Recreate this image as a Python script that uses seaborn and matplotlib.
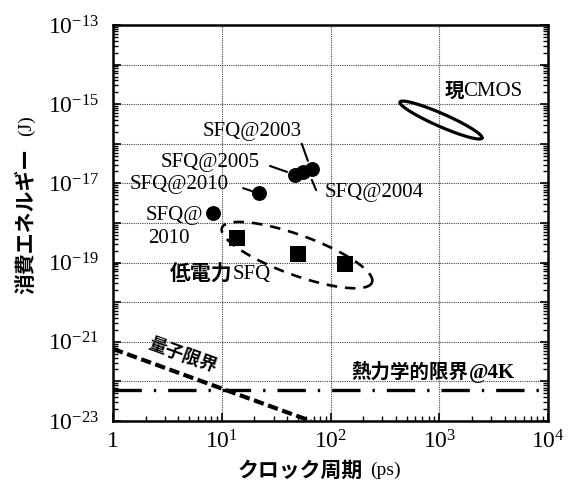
import numpy as np
import pandas as pd
import matplotlib
matplotlib.use("Agg")
import matplotlib.pyplot as plt
import seaborn as sns
from matplotlib.ticker import LogLocator, FixedLocator, FixedFormatter, NullFormatter

# ---- data ----
sfq_period = [8.3, 22, 47, 56, 68]                  # ps
sfq_energy = [1.8e-18, 5.7e-18, 1.6e-17, 1.95e-17, 2.3e-17]
lp_period = [13.8, 50, 135]
lp_energy = [4.2e-19, 1.65e-19, 9.2e-20]
quantum_period = [1, 66]
quantum_energy = [6.6e-22, 1e-23]
thermal_period = [1, 1e4]
thermal_energy = [6.2e-23, 6.2e-23]
# ellipses in log10 space: centre, half-axis vectors (decades)
cmos_center = (3.016, -15.40)
cmos_major = (0.377, -0.455)
cmos_minor = (-0.024, -0.149)
lpe_center = (1.692, -18.81)
lpe_major = (0.69, -0.69)
lpe_minor = (-0.063, -0.475)

x_ticks = [1, 10, 100, 1000, 10000]
x_ticklabels = ["1", r"$\mathregular{10^{1}}$", r"$\mathregular{10^{2}}$",
                r"$\mathregular{10^{3}}$", r"$\mathregular{10^{4}}$"]
y_ticks = [1e-23, 1e-22, 1e-21, 1e-20, 1e-19, 1e-18, 1e-17, 1e-16, 1e-15, 1e-14, 1e-13]
y_ticklabels = [r"$\mathregular{10^{-23}}$", "", r"$\mathregular{10^{-21}}$", "",
                r"$\mathregular{10^{-19}}$", "", r"$\mathregular{10^{-17}}$", "",
                r"$\mathregular{10^{-15}}$", "", r"$\mathregular{10^{-13}}$"]

sns.set_theme(style="white")
plt.rcParams['font.family'] = ['Liberation Serif', 'Noto Sans CJK JP', 'DejaVu Sans']
plt.rcParams['mathtext.fontset'] = 'custom'
plt.rcParams['mathtext.rm'] = 'Liberation Serif'

fig = plt.figure(figsize=(5.76, 4.84), dpi=100)
ax = fig.add_axes([113/576, 63/484, 435/576, 396/484])
ax.set_xscale('log')
ax.set_yscale('log')
ax.set_xlim(1, 1e4)
ax.set_ylim(1e-23, 1e-13)

# limit lines
sns.lineplot(x=thermal_period, y=thermal_energy, ax=ax, color='black', lw=2.4, zorder=3)
ax.lines[-1].set_dashes((8.5, 3.6, 0.7, 3.6))
sns.lineplot(x=quantum_period, y=quantum_energy, ax=ax, color='black', lw=3.0, zorder=3)
ax.lines[-1].set_dashes((2.5, 1.1))

# ellipses
t = np.linspace(0, 2*np.pi, 300)
def ell(c, a, b):
    lx = c[0] + a[0]*np.cos(t) + b[0]*np.sin(t)
    ly = c[1] + a[1]*np.cos(t) + b[1]*np.sin(t)
    return 10**lx, 10**ly
ex, ey = ell(cmos_center, cmos_major, cmos_minor)
ax.plot(ex, ey, color='black', lw=2.3, zorder=3)
ex, ey = ell(lpe_center, lpe_major, lpe_minor)
ax.plot(ex, ey, color='black', lw=1.9, dashes=(4.0, 3.0), zorder=3)

# points
df_sfq = pd.DataFrame({'period': sfq_period, 'energy': sfq_energy})
df_lp = pd.DataFrame({'period': lp_period, 'energy': lp_energy})
sns.scatterplot(data=df_sfq, x='period', y='energy', ax=ax, marker='o', s=115,
                color='black', edgecolor='black', linewidth=0, zorder=4)
sns.scatterplot(data=df_lp, x='period', y='energy', ax=ax, marker='s', s=120,
                color='black', edgecolor='black', linewidth=0, zorder=4)

# axes styling
ax.xaxis.set_major_locator(FixedLocator(x_ticks))
ax.xaxis.set_major_formatter(FixedFormatter(x_ticklabels))
ax.xaxis.set_minor_locator(LogLocator(base=10, subs=np.arange(2, 10)))
ax.xaxis.set_minor_formatter(NullFormatter())
ax.yaxis.set_major_locator(FixedLocator(y_ticks))
ax.yaxis.set_major_formatter(FixedFormatter(y_ticklabels))
ax.yaxis.set_minor_locator(LogLocator(base=10, subs=np.arange(2, 10), numticks=20))
ax.yaxis.set_minor_formatter(NullFormatter())
ax.grid(True, which='major', ls=(0, (1, 1)), color='#444444', lw=0.8)
ax.tick_params(which='both', direction='in', left=True, right=True, bottom=True, top=False,
               color='black')
ax.tick_params(which='major', length=6, width=1.2)
ax.tick_params(which='minor', length=3.5, width=1.0)
ax.tick_params(axis='x', labelsize=17, pad=7, labelcolor='black')
ax.tick_params(axis='y', labelsize=17, pad=10, labelcolor='black')
for sp in ax.spines.values():
    sp.set_linewidth(1.8)
    sp.set_color('black')
ax.set_xlabel('')
ax.set_ylabel('')

# text annotations (axes fraction)
serif = dict(family='Liberation Serif', fontsize=15, color='black', transform=ax.transAxes,
             va='center', ha='left')
ax.text(0.205, 0.730, 'SFQ@2003', **serif)
ax.text(0.110, 0.654, 'SFQ@2005', **serif)
ax.text(0.039, 0.598, 'SFQ@2010', **serif)
ax.text(0.074, 0.520, 'SFQ@', **serif)
ax.text(0.080, 0.460, '2010', **serif)
ax.text(0.487, 0.578, 'SFQ@2004', **serif)
ax.text(0.805, 0.831, 'CMOS', **serif)
ax.text(0.276, 0.369, 'SFQ', **serif)
jp = dict(family='Noto Sans CJK JP', fontweight='bold', color='black',
          transform=ax.transAxes, va='center', ha='left')
ax.text(0.763, 0.833, '現', fontsize=14, **jp)
ax.text(0.131, 0.371, '低電力', fontsize=15, **jp)
ax.text(0.549, 0.123, '熱力学的限界', fontsize=14, **jp)
ax.text(0.817, 0.121, '@4K', family='Liberation Serif', fontweight='bold', fontsize=15,
        color='black', transform=ax.transAxes, va='center', ha='left')
ax.text(0.159, 0.166, '量子限界', fontsize=13, rotation=-20, family='Noto Sans CJK JP',
        fontweight='bold', color='black', transform=ax.transAxes, va='center', ha='center')

# leader lines
leaders = [((0.434, 0.700), (0.448, 0.657)),
           ((0.361, 0.644), (0.400, 0.629)),
           ((0.299, 0.588), (0.326, 0.578)),
           ((0.457, 0.609), (0.467, 0.583))]
for (x0, y0), (x1, y1) in leaders:
    ax.plot([x0, x1], [y0, y1], color='black', lw=1.5, transform=ax.transAxes, zorder=5)

# axis labels
fig.text(300/576, 1 - 470/484, 'クロック周期', family='Noto Sans CJK JP', fontweight='bold',
         fontsize=15, ha='center', va='center', color='black')
fig.text(385/576, 1 - 470/484, '(ps)', family='Liberation Serif', fontsize=14,
         ha='center', va='center', color='black')
fig.text(26/576, 1 - 221/484, '消費エネルギー', family='Noto Sans CJK JP', fontweight='bold',
         fontsize=15, ha='center', va='center', rotation=90, color='black')
fig.text(26/576, 1 - 126/484, '(J)', family='Liberation Serif', fontsize=14,
         ha='center', va='center', rotation=90, color='black')

fig.savefig('out.png', dpi=100, facecolor='white')
